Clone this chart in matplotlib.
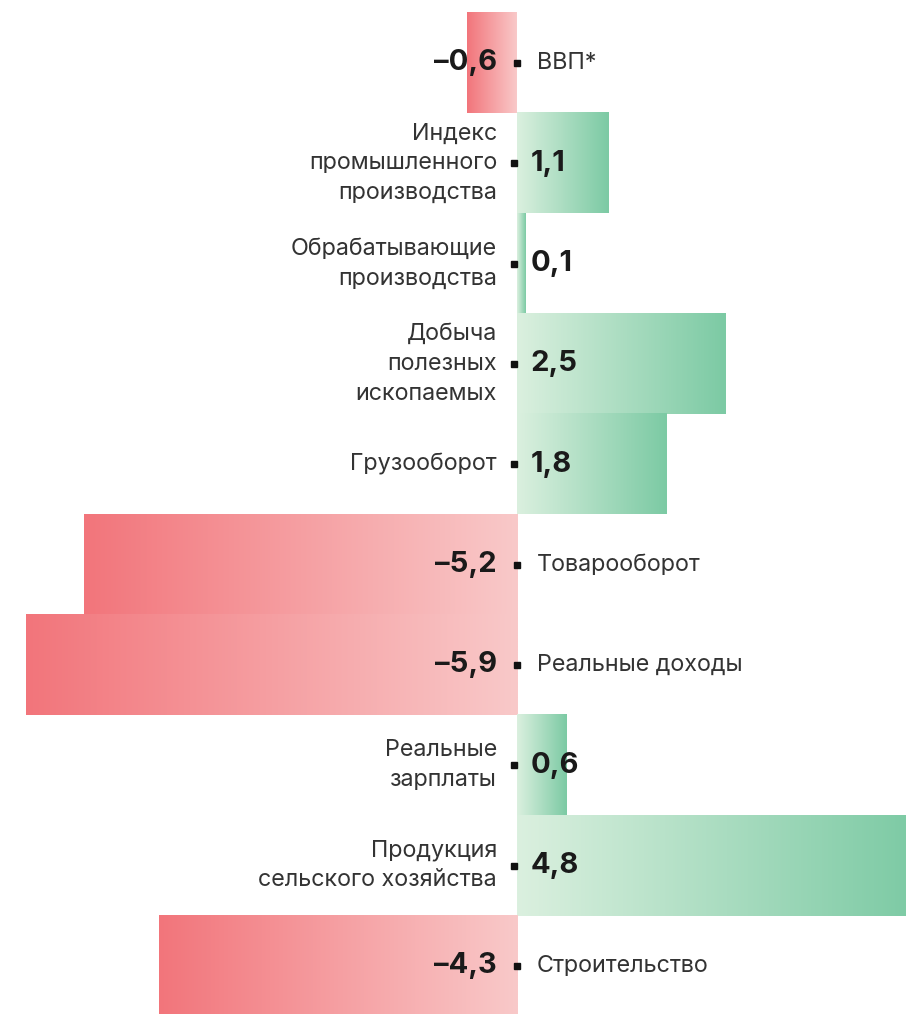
"""
Horizontal bars with gradient fill: macro indicators, % change
"""
import numpy as np
import matplotlib
matplotlib.use('Agg')
import matplotlib.pyplot as plt
from matplotlib.colors import LinearSegmentedColormap

categories = ['ВВП*',
              'Индекс\nпромышленного\nпроизводства',
              'Обрабатывающие\nпроизводства',
              'Добыча\nполезных\nископаемых',
              'Грузооборот',
              'Товарооборот',
              'Реальные доходы',
              'Реальные\nзарплаты',
              'Продукция\nсельского хозяйства',
              'Строительство']
values = [-0.6, 1.1, 0.1, 2.5, 1.8, -5.2, -5.9, 0.6, 4.8, -4.3]

red_cmap = LinearSegmentedColormap.from_list('red', ['#f2757b', '#f9c9c9'])
green_cmap = LinearSegmentedColormap.from_list('green', ['#dbf0df', '#7ccaa4'])

plt.rcParams['font.family'] = ['Inter', 'DejaVu Sans']

fig = plt.figure(figsize=(9.06, 10.14), dpi=100)
ax = fig.add_axes([0, 0, 1, 1])

grad = np.linspace(0, 1, 256).reshape(1, -1)
for i, (name, v) in enumerate(zip(categories, values)):
    if v < 0:
        ax.imshow(grad, cmap=red_cmap, aspect='auto',
                  extent=[v, 0, i + 0.5, i - 0.5], interpolation='bilinear')
        ax.text(-0.24, i, f'–{abs(v):.1f}'.replace('.', ','), ha='right', va='center',
                fontsize=21, fontweight='bold', color='#1a1a1a')
        ax.text(0.24, i, name, ha='left', va='center', fontsize=16.8,
                color='#333333', linespacing=1.45)
        ax.plot(0, i, marker='s', markersize=5, color='#111111')
    else:
        ax.imshow(grad, cmap=green_cmap, aspect='auto',
                  extent=[0, v, i + 0.5, i - 0.5], interpolation='bilinear')
        ax.text(0.16, i, f'{v:.1f}'.replace('.', ','), ha='left', va='center',
                fontsize=21, fontweight='bold', color='#1a1a1a')
        ax.text(-0.24, i, name, ha='right', va='center', fontsize=16.8,
                color='#333333', linespacing=1.45, multialignment='right')
        ax.plot(-0.04, i, marker='s', markersize=5, color='#111111')

ax.set_xlim(-517 / 83.3, 389 / 83.3)
ax.set_ylim(9.48, -0.628)
ax.axis('off')

plt.savefig('out.png', dpi=100, facecolor='white')
